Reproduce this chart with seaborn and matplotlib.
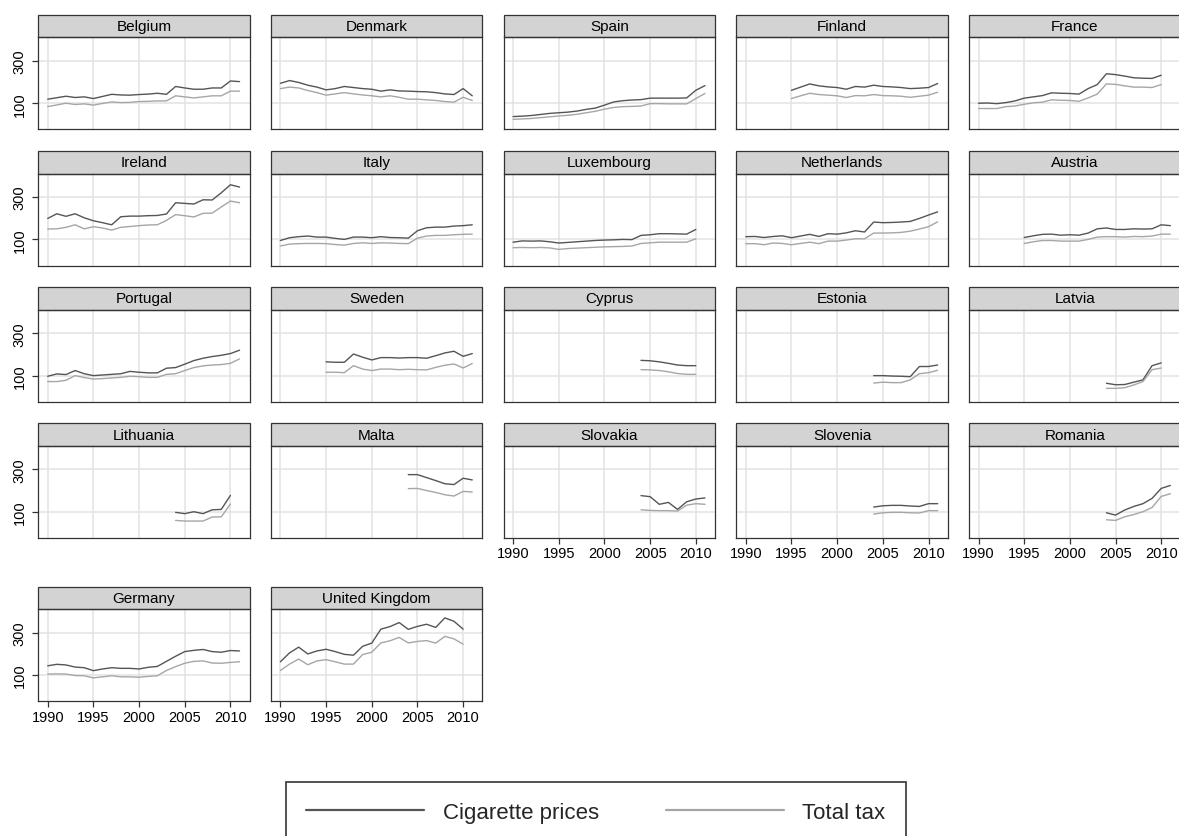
import pandas as pd
import matplotlib
matplotlib.use("Agg")
import matplotlib.pyplot as plt
import seaborn as sns
from matplotlib.lines import Line2D
from matplotlib.patches import Rectangle

countries = ["Belgium", "Denmark", "Spain", "Finland", "France",
             "Ireland", "Italy", "Luxembourg", "Netherlands", "Austria",
             "Portugal", "Sweden", "Cyprus", "Estonia", "Latvia",
             "Lithuania", "Malta", "Slovakia", "Slovenia", "Romania",
             "Germany", "United Kingdom"]
first_year = [1990, 1990, 1990, 1995, 1990,
              1990, 1990, 1990, 1990, 1995,
              1990, 1995, 2004, 2004, 2004,
              2004, 2004, 2004, 2004, 2004,
              1990, 1990]

# cigarette prices and total tax, one value per year from first_year on
belgium_price = [119, 126, 133, 127, 130, 122, 132, 142, 139, 138, 141, 143, 147, 142, 179, 172, 166, 166, 172, 172, 205, 202]
belgium_tax = [84, 92, 100, 94, 97, 91, 99, 106, 103, 104, 108, 109, 111, 111, 135, 130, 125, 130, 135, 135, 157, 157]
denmark_price = [194, 207, 198, 185, 176, 163, 169, 179, 174, 169, 166, 157, 163, 158, 157, 155, 154, 150, 144, 141, 169, 135]
denmark_tax = [169, 176, 172, 160, 150, 138, 144, 150, 144, 139, 135, 130, 135, 128, 119, 119, 116, 113, 108, 105, 128, 113]
spain_price = [37, 39, 42, 47, 52, 55, 58, 63, 71, 77, 91, 106, 112, 115, 117, 124, 124, 124, 124, 125, 161, 183]
spain_tax = [24, 26, 28, 32, 36, 40, 43, 48, 55, 62, 72, 80, 84, 85, 87, 98, 98, 97, 97, 97, 122, 146]
finland_price = [161, 176, 191, 182, 177, 174, 166, 179, 176, 185, 179, 177, 174, 169, 171, 174, 193]
finland_tax = [122, 135, 147, 141, 138, 135, 127, 136, 135, 141, 136, 135, 133, 128, 133, 138, 152]
france_price = [100, 101, 98, 103, 111, 124, 130, 136, 149, 147, 146, 143, 169, 188, 239, 235, 228, 220, 218, 217, 232]
france_tax = [75, 75, 75, 84, 87, 95, 102, 105, 116, 114, 113, 109, 125, 143, 191, 189, 182, 176, 176, 174, 188]
ireland_price = [199, 221, 209, 221, 202, 188, 179, 169, 207, 210, 210, 212, 213, 220, 273, 270, 267, 287, 286, 320, 358, 347]
ireland_tax = [149, 150, 157, 169, 150, 160, 154, 144, 157, 161, 165, 168, 169, 190, 217, 212, 206, 223, 224, 253, 281, 273]
italy_price = [95, 108, 113, 116, 111, 111, 105, 100, 111, 111, 108, 113, 109, 108, 106, 141, 155, 158, 158, 163, 165, 169]
italy_tax = [69, 78, 80, 81, 81, 80, 76, 73, 81, 84, 81, 84, 83, 81, 80, 106, 116, 119, 119, 122, 124, 125]
luxembourg_price = [87, 93, 92, 93, 89, 83, 86, 89, 92, 95, 97, 98, 100, 99, 119, 122, 127, 127, 126, 125, 147]
luxembourg_tax = [61, 62, 61, 62, 60, 53, 57, 59, 61, 63, 65, 66, 67, 69, 81, 84, 87, 87, 87, 87, 103]
netherlands_price = [113, 114, 109, 114, 117, 108, 116, 124, 114, 127, 125, 131, 141, 135, 182, 179, 180, 182, 185, 199, 215, 230]
netherlands_tax = [80, 80, 75, 83, 81, 75, 81, 87, 80, 92, 92, 97, 103, 103, 130, 130, 131, 133, 139, 149, 160, 183]
austria_price = [109, 117, 124, 125, 120, 122, 120, 130, 150, 154, 147, 147, 150, 149, 150, 169, 165]
austria_tax = [81, 89, 95, 95, 92, 92, 92, 100, 111, 113, 113, 111, 114, 113, 116, 125, 125]
portugal_price = [97, 108, 105, 124, 109, 100, 103, 106, 109, 120, 116, 113, 113, 135, 138, 154, 171, 182, 190, 196, 204, 220]
portugal_tax = [72, 72, 78, 100, 91, 84, 86, 89, 92, 97, 95, 92, 92, 106, 109, 124, 138, 146, 150, 152, 158, 179]
sweden_price = [165, 163, 163, 202, 187, 174, 185, 185, 183, 185, 185, 182, 194, 207, 215, 191, 204]
sweden_tax = [116, 116, 114, 147, 131, 124, 131, 131, 128, 130, 128, 127, 139, 149, 155, 136, 157]
cyprus_price = [172, 170, 165, 158, 150, 147, 147]
cyprus_tax = [128, 127, 124, 118, 110, 106, 106]
estonia_price = [100, 100, 98, 97, 95, 143, 143, 150]
estonia_tax = [65, 69, 67, 67, 80, 109, 114, 125]
latvia_price = [64, 57, 58, 69, 80, 147, 160]
latvia_tax = [40, 40, 43, 56, 72, 128, 136]
lithuania_price = [97, 91, 100, 91, 109, 111, 177]
lithuania_tax = [59, 56, 56, 56, 75, 76, 136]
malta_price = [275, 275, 261, 247, 232, 228, 258, 250]
malta_tax = [209, 210, 200, 191, 180, 174, 196, 193]
slovakia_price = [176, 171, 135, 144, 111, 147, 160, 165]
slovakia_tax = [109, 106, 105, 105, 103, 131, 138, 135]
slovenia_price = [122, 128, 130, 130, 127, 125, 138, 138]
slovenia_tax = [89, 95, 97, 97, 95, 94, 105, 105]
romania_price = [95, 84, 108, 125, 138, 163, 210, 224]
romania_tax = [62, 59, 76, 87, 100, 120, 172, 185]
germany_price = [144, 151, 148, 138, 135, 121, 129, 135, 132, 132, 129, 137, 141, 165, 189, 211, 217, 221, 211, 208, 216, 214]
germany_tax = [105, 106, 105, 98, 97, 87, 92, 97, 92, 92, 90, 94, 97, 122, 140, 156, 165, 167, 157, 156, 160, 163]
uk_price = [163, 205, 232, 200, 214, 222, 211, 198, 194, 236, 251, 317, 329, 348, 316, 330, 340, 325, 370, 354, 317]
uk_tax = [122, 152, 176, 149, 167, 173, 163, 152, 152, 197, 208, 252, 262, 278, 252, 259, 263, 251, 283, 271, 246]

price_lists = [belgium_price, denmark_price, spain_price, finland_price, france_price,
               ireland_price, italy_price, luxembourg_price, netherlands_price, austria_price,
               portugal_price, sweden_price, cyprus_price, estonia_price, latvia_price,
               lithuania_price, malta_price, slovakia_price, slovenia_price, romania_price,
               germany_price, uk_price]
tax_lists = [belgium_tax, denmark_tax, spain_tax, finland_tax, france_tax,
             ireland_tax, italy_tax, luxembourg_tax, netherlands_tax, austria_tax,
             portugal_tax, sweden_tax, cyprus_tax, estonia_tax, latvia_tax,
             lithuania_tax, malta_tax, slovakia_tax, slovenia_tax, romania_tax,
             germany_tax, uk_tax]

series_names = ["Cigarette prices", "Total tax"]
colors = {"Cigarette prices": "#555555", "Total tax": "#a6a6a6"}

rows = []
for name, start, p, t in zip(countries, first_year, price_lists, tax_lists):
    for i in range(len(p)):
        rows.append((name, start + i, series_names[0], p[i]))
        rows.append((name, start + i, series_names[1], t[i]))
df = pd.DataFrame(rows, columns=["country", "year", "series", "value"])

sns.set_theme(style="white")
plt.rcParams["font.family"] = ["Liberation Sans", "DejaVu Sans"]

W, H = 1179, 837
g = sns.relplot(data=df, x="year", y="value", hue="series", col="country",
                col_order=countries, col_wrap=5, kind="line", palette=colors,
                linewidth=1.0, errorbar=None, legend=False, height=2, aspect=1.5,
                facet_kws=dict(despine=False, sharex=True, sharey=True))
fig = g.figure
fig.set_size_inches(W / 100, H / 100)
g.set_titles("")
g.set_axis_labels("", "")

# layout in pixels
col_left = [38.3 + c * 232.7 for c in range(5)]
row_top = [38.3, 174.5, 310.7, 446.8, 610.2]
ax_w, ax_h, strip_h = 211.3, 92.0, 22.5

for i, (ax, name) in enumerate(zip(g.axes.flat, countries)):
    r, c = divmod(i, 5)
    ax.set_position([col_left[c] / W, 1 - (row_top[r] + ax_h) / H, ax_w / W, ax_h / H])
    ax.set_xlim(1988.97, 2012.1)
    ax.set_ylim(-23, 411)
    ax.set_xticks([1990, 1995, 2000, 2005, 2010])
    ax.set_yticks([100, 300])
    ax.grid(True, color="#e3e3e3", linewidth=1.1)
    ax.set_axisbelow(True)
    for sp in ax.spines.values():
        sp.set_color("#333333")
        sp.set_linewidth(0.9)

    show_x = i >= 17
    show_y = c == 0
    ax.tick_params(axis="x", bottom=True, labelbottom=show_x, length=4.5 if show_x else 0,
                   width=0.9, color="#333333", labelsize=10.5, pad=1.5, labelcolor="black")
    ax.tick_params(axis="y", left=True, labelleft=show_y, length=4.5 if show_y else 0,
                   width=0.9, color="#333333", labelsize=10.5, pad=4, labelcolor="black")
    for lab in ax.get_yticklabels():
        lab.set_rotation(90)
        lab.set_va("center")

    ax.add_patch(Rectangle((0, 1), 1, strip_h / ax_h, transform=ax.transAxes,
                           facecolor="#d3d3d3", edgecolor="#333333", linewidth=0.9,
                           clip_on=False))
    ax.text(0.5, 1 + strip_h / ax_h / 2, name, transform=ax.transAxes,
            ha="center", va="center", fontsize=11, color="black")

handles = [Line2D([], [], color=colors[s], linewidth=1.6) for s in series_names]
leg = fig.legend(handles, series_names, loc="upper center",
                 bbox_to_anchor=(596 / W, 1 - 783 / H), ncol=2, frameon=True,
                 fontsize=16, handlelength=5.3, handletextpad=0.85,
                 columnspacing=3.0, borderpad=0.9, borderaxespad=0, fancybox=False)
leg.get_frame().set_edgecolor("black")
leg.get_frame().set_linewidth(1.2)

fig.savefig("out.png", dpi=100)
